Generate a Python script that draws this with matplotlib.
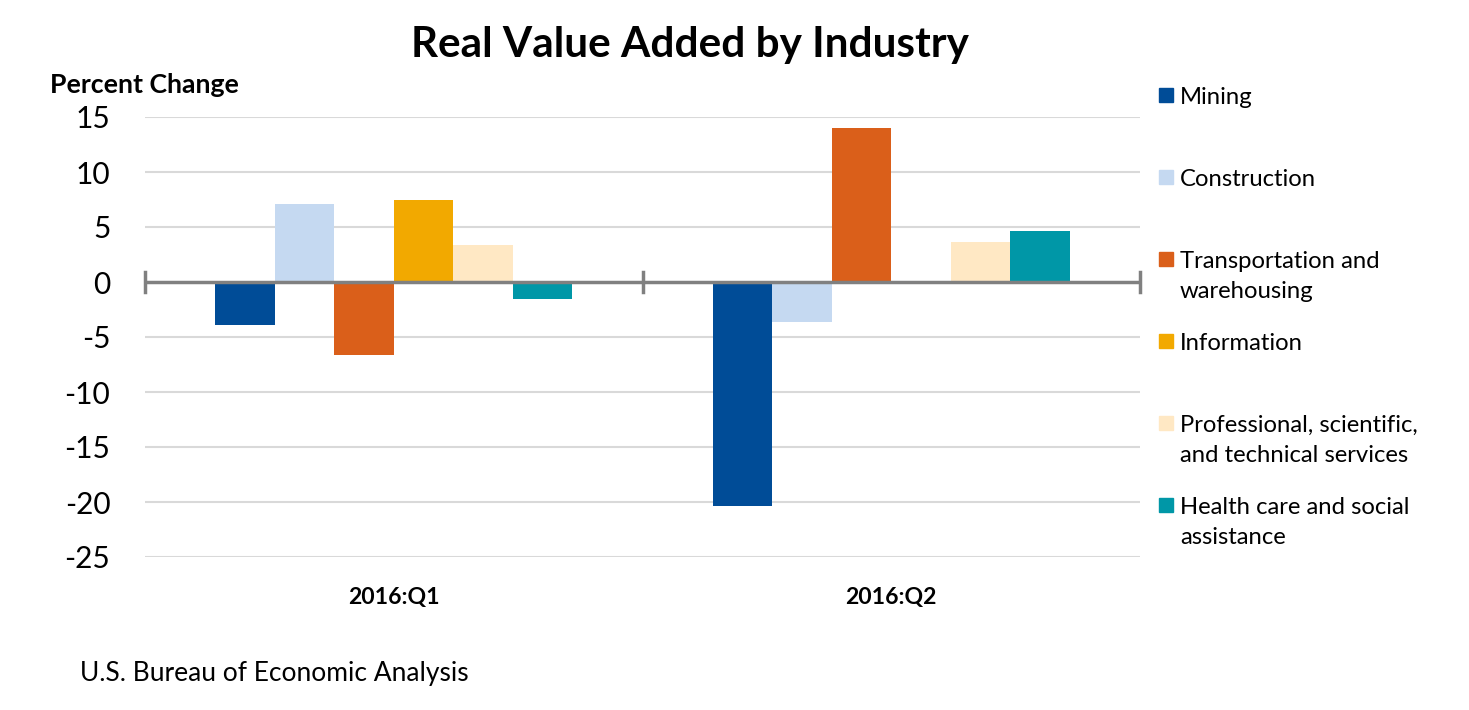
import matplotlib
matplotlib.use("Agg")
import matplotlib.pyplot as plt
from matplotlib.patches import Rectangle
import numpy as np

plt.rcParams['font.family'] = ['Lato', 'DejaVu Sans']

quarters = ["2016:Q1", "2016:Q2"]
industries = ["Mining", "Construction", "Transportation and\nwarehousing", "Information",
              "Professional, scientific,\nand technical services", "Health care and social\nassistance"]
values = {
    "Mining": [-3.9, -20.4],
    "Construction": [7.1, -3.6],
    "Transportation and\nwarehousing": [-6.6, 14.0],
    "Information": [7.5, 0.0],
    "Professional, scientific,\nand technical services": [3.4, 3.6],
    "Health care and social\nassistance": [-1.5, 4.6],
}
colors = ["#004C97", "#C5D9F1", "#DA5F1A", "#F2A900", "#FFE8C4", "#0097A7"]
yticks = [15, 10, 5, 0, -5, -10, -15, -20, -25]

W, H = 1469, 710
fig = plt.figure(figsize=(W/100, H/100), dpi=100)
ax = fig.add_axes([145/W, 1-557/H, (1140-145)/W, (557-117)/H])

x = np.arange(len(quarters))
bw = 0.1196
n = len(industries)
for i, ind in enumerate(industries):
    offs = (i - (n-1)/2) * bw
    ax.bar(x + offs, values[ind], width=bw, color=colors[i], zorder=2)

ax.set_xlim(-0.5, 1.5)
ax.set_ylim(-25, 15)
ax.set_yticks(yticks)
ax.set_yticklabels([str(t) for t in yticks], fontsize=21.5)
ax.tick_params(axis='y', length=0, pad=25)
for t in yticks:
    if t != 0:
        ax.axhline(t, color="#D9D9D9", lw=1.5, zorder=1)
ax.axhline(0, color="#808080", lw=2.5, zorder=3)
for xv in [-0.5, 0.5, 1.5]:
    ax.plot([xv, xv], [-0.9, 0.9], color="#808080", lw=2.5, zorder=3, clip_on=False)
for s in ax.spines.values():
    s.set_visible(False)
ax.set_xticks([])
for xi, q in zip(x, quarters):
    ax.text(xi, -28.7, q, ha='center', va='center', fontsize=16.6, fontweight='bold')

fig.text(690/W, 1-45/H, "Real Value Added by Industry", ha='center', va='center',
         fontsize=30.4, fontweight='bold')
fig.text(50/W, 1-85/H, "Percent Change", ha='left', va='center', fontsize=19.2, fontweight='bold')
fig.text(80/W, 1-673/H, "U.S. Bureau of Economic Analysis", ha='left', va='center', fontsize=19)

for i, ind in enumerate(industries):
    yc = 95 + 82*i
    fig.patches.append(Rectangle((1159/W, 1-(yc+7)/H), 14/W, 14/H, transform=fig.transFigure,
                                 color=colors[i]))
    fig.text(1180/W, 1-(yc-8)/H, ind, ha='left', va='top', fontsize=17.2, linespacing=1.53)

fig.savefig("out.png", dpi=100)
